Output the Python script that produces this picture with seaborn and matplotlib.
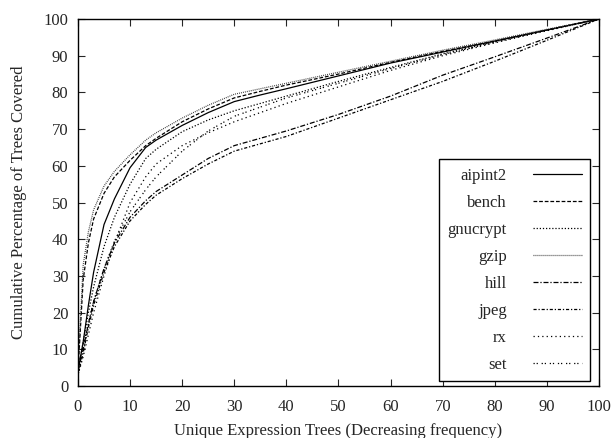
import matplotlib
matplotlib.use("Agg")
import matplotlib.pyplot as plt
import seaborn as sns
import pandas as pd

x_pct = [0, 1, 2, 3, 5, 7, 10, 13, 15, 20, 25, 30, 35, 40, 50, 60, 70, 80, 90, 100]

aipint2 = [4, 12, 22, 31, 44, 51, 59.5, 65, 67, 71, 74.5, 77.5, 79.3, 81, 84.5, 88, 91, 94, 97, 100]
bench = [4, 29, 39, 45.5, 52.5, 57, 61.5, 65.5, 67.5, 72, 75.5, 78.5, 80.3, 82, 85, 88.2, 91.2, 94, 97, 100]
gnucrypt = [4, 12, 20, 27, 38, 46, 55, 62, 64.5, 69.3, 72.5, 75, 77, 79, 83, 86.8, 90.5, 93.8, 97, 100]
gzip = [5, 33, 42, 48, 54.5, 58.5, 63, 67, 69, 73, 76.5, 79.5, 81, 82.5, 85.5, 88.5, 91.5, 94.3, 97.2, 100]
hill = [4, 10, 17, 23, 32, 39, 46, 50.5, 53, 57.5, 62, 65.5, 67.5, 69.5, 74, 79, 84.7, 89.7, 94.8, 100]
jpeg = [3, 9, 16, 22, 31, 38, 45, 49.5, 52, 56.5, 60.5, 64, 66, 68, 73, 78, 83, 88.5, 94.2, 100]
rx = [3, 8, 14, 20, 30, 39, 50, 57, 60.5, 65.5, 69, 72, 74.5, 77, 81.5, 86, 90, 93.5, 96.8, 100]
set_ = [5, 11, 17, 23, 32, 39.5, 47.5, 53.5, 57, 64, 69.5, 73.5, 76, 78.5, 82.5, 86.5, 90.3, 93.7, 97, 100]

names = ["aipint2", "bench", "gnucrypt", "gzip", "hill", "jpeg", "rx", "set"]
series = [aipint2, bench, gnucrypt, gzip, hill, jpeg, rx, set_]
x_ticks = list(range(0, 101, 10))
y_ticks = list(range(0, 101, 10))

styles = {
    "aipint2": dict(linestyle="-", color="black"),
    "bench": dict(linestyle=(0, (3, 1.5)), color="black"),
    "gnucrypt": dict(linestyle=(0, (1, 1.5)), color="black"),
    "gzip": dict(linestyle=(0, (0.7, 0.9)), color="#333333"),
    "hill": dict(linestyle=(0, (4, 1.5, 1, 1.5)), color="black"),
    "jpeg": dict(linestyle=(0, (2.5, 1.5, 1, 1.5)), color="black"),
    "rx": dict(linestyle=(0, (1, 2.5)), color="black"),
    "set": dict(linestyle=(0, (1, 1.5, 1, 3)), color="black"),
}

sns.set_style("ticks")
plt.rcParams["font.family"] = ["Liberation Serif", "DejaVu Serif"]

fig = plt.figure(figsize=(6.14, 4.38), dpi=100)
ax = fig.add_axes([0.127, 0.1187, 0.8486, 0.8379])

for name, ys in zip(names, series):
    df = pd.DataFrame({"x": x_pct, "y": ys})
    sns.lineplot(data=df, x="x", y="y", ax=ax, label=name, linewidth=0.9, **styles[name])

ax.set_xlim(0, 100)
ax.set_ylim(0, 100)
ax.set_xticks(x_ticks)
ax.set_yticks(y_ticks)
ax.tick_params(direction="in", top=True, right=True, length=5, width=0.8, labelsize=12)
ax.tick_params(axis="x", pad=9)
ax.tick_params(axis="y", pad=7)
for s in ax.spines.values():
    s.set_linewidth(1.0)
    s.set_color("black")
ax.set_xlabel("Unique Expression Trees (Decreasing frequency)", fontsize=12, labelpad=6)
ax.set_ylabel("Cumulative Percentage of Trees Covered", fontsize=12, labelpad=12)

leg = ax.legend(loc="lower right", bbox_to_anchor=(0.983, 0.014), markerfirst=False,
                frameon=True, fancybox=False, edgecolor="black", framealpha=1,
                fontsize=12, handlelength=2.9, labelspacing=0.66, borderpad=0.5,
                handletextpad=1.6, borderaxespad=0)
leg.get_frame().set_linewidth(1.0)

fig.savefig("out.png", dpi=100)
